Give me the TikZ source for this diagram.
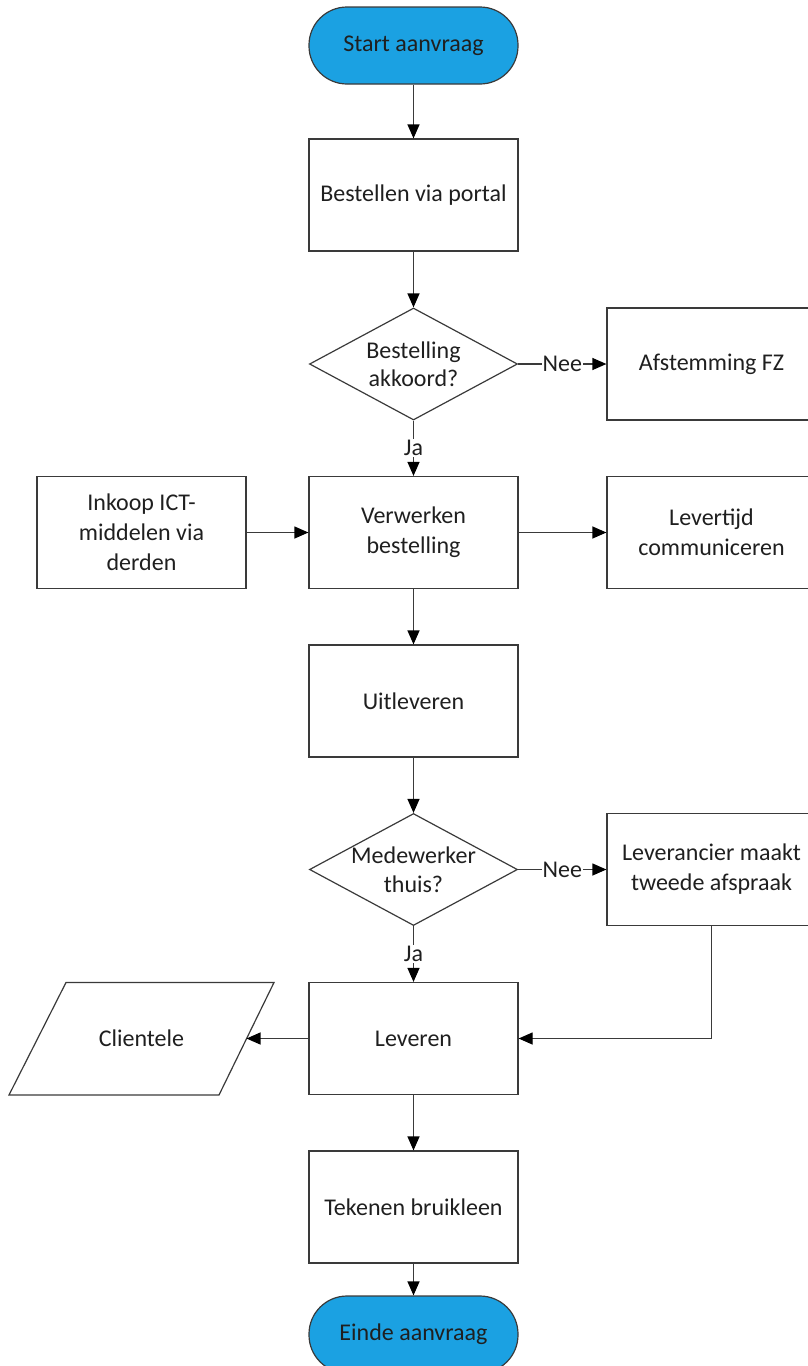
\documentclass[tikz,border=0pt]{standalone}
\usepackage{fontspec}
\setmainfont{Carlito}
\usetikzlibrary{shapes.geometric,arrows.meta}
\definecolor{termblue}{HTML}{1BA1E2}
\definecolor{linegray}{HTML}{3A3A3A}
\begin{document}
\begin{tikzpicture}[x=1pt,y=-1pt,
  every node/.append style={font=\fontsize{24}{30}\selectfont, text=black!88},
  box/.style={draw=linegray, line width=1.2pt, minimum width=209pt, minimum height=112pt, inner sep=0pt, align=center},
  term/.style={draw=linegray, line width=1.2pt, fill=termblue, minimum width=209pt, minimum height=77pt, rounded corners=38pt, inner sep=0pt},
  dec/.style={diamond, draw=linegray, line width=1.2pt, minimum width=208pt, minimum height=112pt, inner sep=0pt},
  conn/.style={draw=linegray, line width=1.2pt, -{Triangle[length=14pt,width=12pt,fill=black,color=black]}},
  lbl/.style={fill=white, inner sep=1pt},
  plain/.style={draw=linegray, line width=1.2pt}
]
\useasboundingbox (0,0) rectangle (808,1366);

\node[term] (start) at (413.5,45.5) {Start aanvraag};
\node[box] (bestel) at (413.5,195) {Bestellen via portal};
\node[dec, label={[align=center, font=\fontsize{24}{28.5}\selectfont]center:Bestelling\\akkoord?}] (d1) at (413.5,364) {};
\node[box] (afst) at (711.5,364) {Afstemming FZ};
\node[box] (verw) at (413.5,532.5) {Verwerken\\bestelling};
\node[box] (inkoop) at (141.5,532.5) {Inkoop ICT-\\middelen via\\derden};
\node[box] (levt) at (711.5,532.5) {Levertijd\\communiceren};
\node[box] (uitl) at (413.5,701) {Uitleveren};
\node[dec, label={[align=center, font=\fontsize{24}{28.5}\selectfont]center:Medewerker\\thuis?}] (d2) at (413.5,869.5) {};
\node[box] (leva) at (711.5,869.5) {Leverancier maakt\\tweede afspraak};
\node[box] (leveren) at (413.5,1038.5) {Leveren};
\draw[plain] (66,982.5) -- (274,982.5) -- (219,1095) -- (9,1095) -- cycle;
\node (cli) at (141.5,1038.5) {Clientele};
\coordinate (cliR) at (246.5,1038.5);
\node[box] (teken) at (413.5,1207) {Tekenen bruikleen};
\node[term] (einde) at (413.5,1334.5) {Einde aanvraag};

\draw[conn] (start) -- (bestel);
\draw[conn] (bestel) -- (d1);
\draw[conn] (d1) -- node[lbl]{Nee} (afst);
\draw[conn] (d1) -- node[lbl]{Ja} (verw);
\draw[conn] (inkoop) -- (verw);
\draw[conn] (verw) -- (levt);
\draw[conn] (verw) -- (uitl);
\draw[conn] (uitl) -- (d2);
\draw[conn] (d2) -- node[lbl]{Nee} (leva);
\draw[conn] (d2) -- node[lbl]{Ja} (leveren);
\draw[conn] (leva.south) |- (leveren.east);
\draw[conn] (leveren.west) -- (cliR);
\draw[conn] (leveren) -- (teken);
\draw[conn] (teken) -- (einde);
\end{tikzpicture}
\end{document}
